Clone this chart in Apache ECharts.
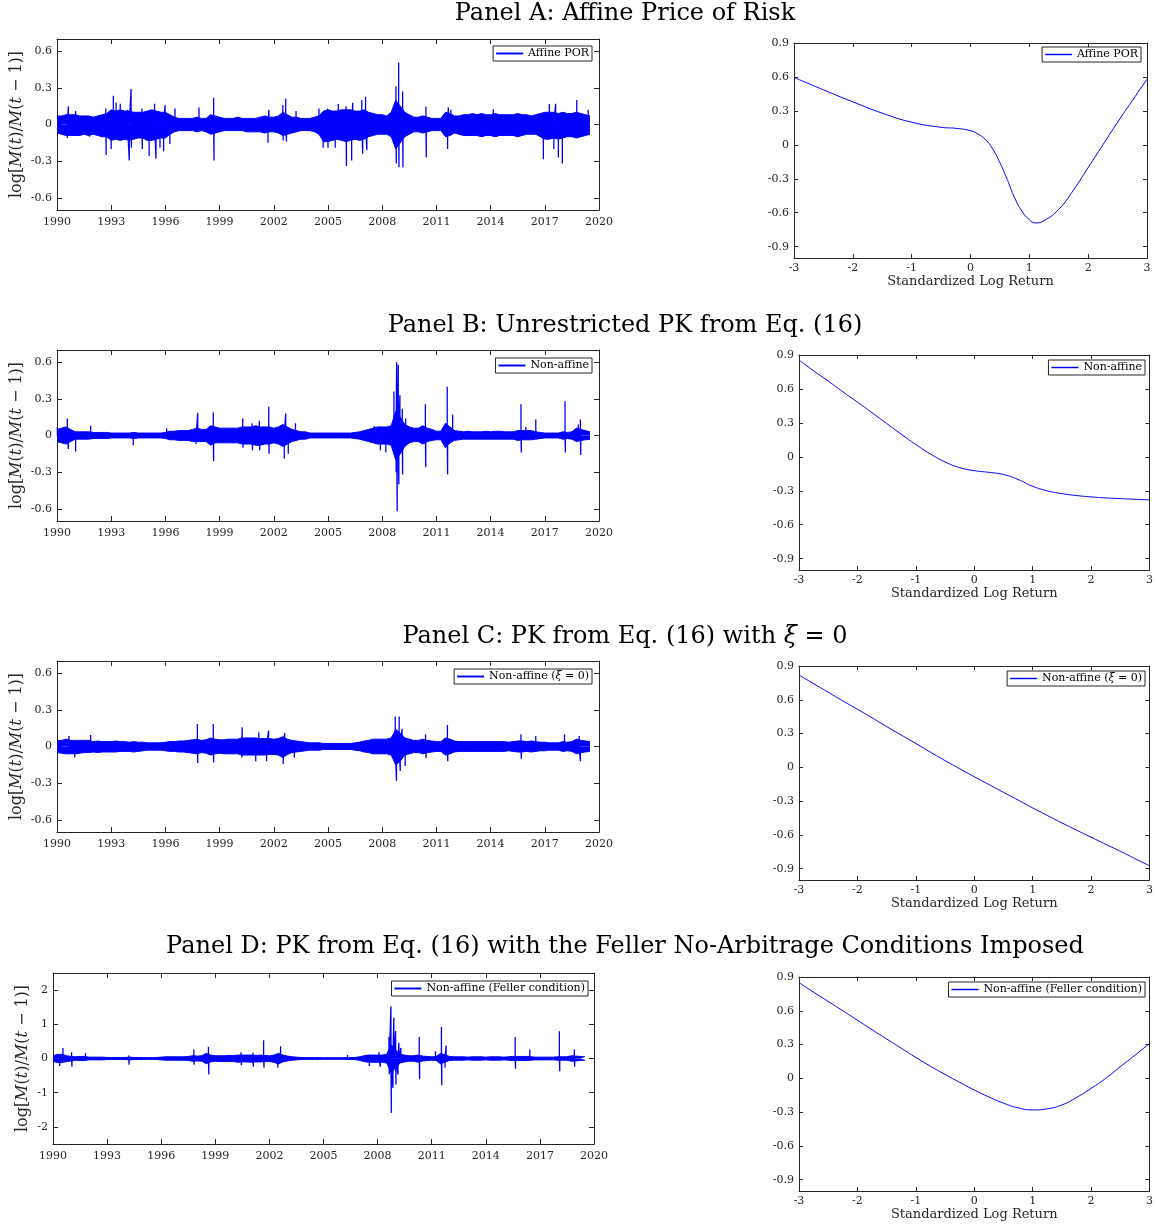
<!DOCTYPE html>
<html lang="en">
<head>
<meta charset="UTF-8">
<title>Pricing kernel panels</title>
<style>html,body{margin:0;padding:0;background:#fff;} #main{width:1156px;height:1226px;}</style>
</head>
<body>
<div id="main"></div>
<script src="https://cdn.jsdelivr.net/npm/echarts@6.0.0/dist/echarts.min.js"></script>
<script type="text/javascript">
// tick labels
var yearTicks = [1990, 1993, 1996, 1999, 2002, 2005, 2008, 2011, 2014, 2017, 2020];
var leftTicks = [-0.6, -0.3, 0, 0.3, 0.6];
var fellerTicks = [-2, -1, 0, 1, 2];
var rightTicks = [-0.9, -0.6, -0.3, 0, 0.3, 0.6, 0.9];
var retTicks = [-3, -2, -1, 0, 1, 2, 3];

// dense body of the daily log SDF changes: upper / lower edge read at each quarter, 1990.00 .. 2019.50
var affineBandHi = [
  0.07, 0.07, 0.08, 0.08,  0.08, 0.07, 0.07, 0.07,  0.06, 0.07, 0.08, 0.09,  0.12, 0.11, 0.12, 0.11,
  0.11, 0.10, 0.10, 0.10,  0.11, 0.12, 0.11, 0.10,  0.10, 0.08, 0.06, 0.05,  0.05, 0.05, 0.05, 0.06,
  0.05, 0.05, 0.08, 0.07,  0.06, 0.05, 0.05, 0.05,  0.06, 0.05, 0.05, 0.05,  0.05, 0.06, 0.07, 0.06,
  0.06, 0.07, 0.10, 0.08,  0.06, 0.06, 0.05, 0.05,  0.05, 0.06, 0.07, 0.11,  0.12, 0.11, 0.11, 0.12,
  0.12, 0.12, 0.11, 0.11,  0.12, 0.10, 0.09, 0.08,  0.08, 0.07, 0.10, 0.20,  0.15, 0.10, 0.08, 0.06,
  0.06, 0.07, 0.06, 0.05,  0.05, 0.05, 0.10, 0.09,  0.07, 0.07, 0.08, 0.08,  0.09, 0.08, 0.09, 0.08,
  0.08, 0.09, 0.08, 0.08,  0.08, 0.08, 0.09, 0.08,  0.08, 0.07, 0.08, 0.09,  0.10, 0.10, 0.10, 0.09,
  0.10, 0.09, 0.09, 0.10,  0.09, 0.08, 0.07
];
var affineBandLo = [
  -0.07, -0.08, -0.09, -0.09,  -0.09, -0.09, -0.08, -0.09,  -0.08, -0.09, -0.10, -0.10,  -0.13, -0.12, -0.13, -0.12,
  -0.13, -0.12, -0.11, -0.11,  -0.13, -0.13, -0.12, -0.11,  -0.11, -0.08, -0.06, -0.05,  -0.05, -0.05, -0.05, -0.06,
  -0.05, -0.06, -0.08, -0.07,  -0.06, -0.05, -0.05, -0.05,  -0.05, -0.05, -0.06, -0.06,  -0.06, -0.06, -0.07, -0.06,
  -0.06, -0.07, -0.09, -0.08,  -0.07, -0.06, -0.05, -0.05,  -0.05, -0.06, -0.08, -0.14,  -0.14, -0.13, -0.12, -0.13,
  -0.14, -0.13, -0.12, -0.13,  -0.12, -0.10, -0.09, -0.08,  -0.08, -0.08, -0.10, -0.20,  -0.15, -0.10, -0.08, -0.06,
  -0.06, -0.07, -0.06, -0.05,  -0.05, -0.05, -0.10, -0.09,  -0.07, -0.08, -0.09, -0.09,  -0.09, -0.09, -0.10, -0.09,
  -0.09, -0.10, -0.09, -0.09,  -0.09, -0.09, -0.10, -0.09,  -0.08, -0.08, -0.08, -0.10,  -0.12, -0.12, -0.11, -0.12,
  -0.11, -0.10, -0.10, -0.11,  -0.10, -0.09, -0.08
];
var nonAffBandHi = [
  0.05, 0.06, 0.07, 0.05,  0.03, 0.03, 0.03, 0.03,  0.025, 0.025, 0.025, 0.025,  0.02, 0.02, 0.02, 0.02,
  0.02, 0.025, 0.02, 0.02,  0.02, 0.02, 0.02, 0.02,  0.025, 0.035, 0.035, 0.04,  0.04, 0.04, 0.05, 0.06,
  0.05, 0.05, 0.08, 0.07,  0.06, 0.06, 0.06, 0.06,  0.06, 0.07, 0.07, 0.07,  0.08, 0.07, 0.07, 0.07,
  0.06, 0.07, 0.09, 0.07,  0.05, 0.04, 0.03, 0.03,  0.02, 0.02, 0.02, 0.02,  0.02, 0.02, 0.02, 0.02,
  0.02, 0.02, 0.025, 0.03,  0.04, 0.05, 0.06, 0.07,  0.07, 0.07, 0.08, 0.20,  0.15, 0.09, 0.07, 0.06,
  0.06, 0.08, 0.06, 0.05,  0.035, 0.035, 0.10, 0.07,  0.04, 0.035, 0.03, 0.035,  0.03, 0.03, 0.03, 0.035,
  0.03, 0.035, 0.035, 0.03,  0.03, 0.03, 0.04, 0.04,  0.04, 0.04, 0.03, 0.025,  0.02, 0.02, 0.02, 0.02,
  0.03, 0.025, 0.03, 0.06,  0.05, 0.04, 0.03
];
var nonAffBandLo = [
  -0.05, -0.06, -0.07, -0.05,  -0.03, -0.03, -0.03, -0.03,  -0.025, -0.025, -0.025, -0.025,  -0.02, -0.02, -0.02, -0.02,
  -0.02, -0.025, -0.02, -0.02,  -0.02, -0.02, -0.02, -0.02,  -0.025, -0.035, -0.035, -0.04,  -0.04, -0.04, -0.05, -0.05,
  -0.05, -0.05, -0.08, -0.06,  -0.06, -0.06, -0.06, -0.06,  -0.06, -0.07, -0.07, -0.07,  -0.08, -0.08, -0.07, -0.07,
  -0.06, -0.07, -0.09, -0.07,  -0.05, -0.04, -0.03, -0.03,  -0.02, -0.02, -0.02, -0.02,  -0.02, -0.02, -0.02, -0.02,
  -0.02, -0.02, -0.025, -0.03,  -0.04, -0.05, -0.06, -0.07,  -0.07, -0.07, -0.08, -0.20,  -0.15, -0.09, -0.06, -0.05,
  -0.05, -0.07, -0.05, -0.04,  -0.035, -0.035, -0.10, -0.06,  -0.04, -0.035, -0.03, -0.03,  -0.03, -0.03, -0.03, -0.03,
  -0.03, -0.03, -0.03, -0.03,  -0.03, -0.03, -0.04, -0.035,  -0.035, -0.035, -0.03, -0.025,  -0.02, -0.02, -0.02, -0.02,
  -0.03, -0.025, -0.03, -0.05,  -0.04, -0.035, -0.03
];
var xi0BandHi = [
  0.05, 0.05, 0.06, 0.05,  0.05, 0.05, 0.05, 0.05,  0.04, 0.045, 0.04, 0.04,  0.04, 0.045, 0.04, 0.04,
  0.035, 0.04, 0.035, 0.035,  0.03, 0.03, 0.03, 0.03,  0.035, 0.04, 0.04, 0.045,  0.045, 0.05, 0.055, 0.06,
  0.05, 0.055, 0.07, 0.06,  0.055, 0.055, 0.06, 0.06,  0.06, 0.07, 0.07, 0.07,  0.07, 0.065, 0.065, 0.065,
  0.06, 0.065, 0.08, 0.06,  0.05, 0.045, 0.04, 0.035,  0.03, 0.03, 0.03, 0.025,  0.025, 0.025, 0.025, 0.025,
  0.025, 0.025, 0.03, 0.035,  0.045, 0.05, 0.06, 0.06,  0.06, 0.06, 0.07, 0.14,  0.11, 0.07, 0.06, 0.05,
  0.05, 0.06, 0.05, 0.045,  0.04, 0.04, 0.07, 0.06,  0.045, 0.04, 0.04, 0.04,  0.04, 0.04, 0.04, 0.04,
  0.04, 0.04, 0.04, 0.04,  0.035, 0.04, 0.045, 0.045,  0.04, 0.045, 0.04, 0.035,  0.035, 0.03, 0.03, 0.03,
  0.04, 0.035, 0.04, 0.06,  0.05, 0.045, 0.04
];
var xi0BandLo = [
  -0.05, -0.055, -0.06, -0.06,  -0.06, -0.055, -0.05, -0.05,  -0.045, -0.05, -0.045, -0.045,  -0.045, -0.045, -0.04, -0.04,
  -0.04, -0.045, -0.04, -0.035,  -0.03, -0.03, -0.03, -0.03,  -0.035, -0.04, -0.04, -0.045,  -0.045, -0.05, -0.055, -0.06,
  -0.05, -0.055, -0.07, -0.06,  -0.055, -0.06, -0.06, -0.06,  -0.06, -0.07, -0.07, -0.07,  -0.07, -0.07, -0.07, -0.065,
  -0.065, -0.07, -0.09, -0.065,  -0.05, -0.045, -0.04, -0.035,  -0.03, -0.03, -0.03, -0.025,  -0.025, -0.025, -0.025, -0.025,
  -0.025, -0.025, -0.03, -0.035,  -0.045, -0.05, -0.06, -0.06,  -0.06, -0.06, -0.07, -0.15,  -0.12, -0.07, -0.06, -0.05,
  -0.05, -0.06, -0.05, -0.045,  -0.04, -0.04, -0.07, -0.06,  -0.045, -0.04, -0.04, -0.04,  -0.04, -0.04, -0.04, -0.04,
  -0.04, -0.04, -0.04, -0.04,  -0.035, -0.04, -0.045, -0.045,  -0.04, -0.045, -0.04, -0.035,  -0.035, -0.03, -0.03, -0.03,
  -0.04, -0.035, -0.04, -0.06,  -0.05, -0.045, -0.04
];
var fellerBandHi = [
  0.08, 0.12, 0.12, 0.08,  0.06, 0.05, 0.06, 0.06,  0.04, 0.04, 0.04, 0.04,  0.03, 0.03, 0.03, 0.03,
  0.03, 0.04, 0.03, 0.03,  0.025, 0.025, 0.025, 0.03,  0.04, 0.05, 0.05, 0.05,  0.05, 0.05, 0.06, 0.08,
  0.07, 0.08, 0.15, 0.10,  0.08, 0.08, 0.08, 0.09,  0.09, 0.10, 0.10, 0.10,  0.10, 0.09, 0.10, 0.09,
  0.08, 0.10, 0.15, 0.10,  0.07, 0.05, 0.04, 0.03,  0.025, 0.025, 0.025, 0.025,  0.02, 0.02, 0.02, 0.02,
  0.02, 0.025, 0.03, 0.03,  0.05, 0.08, 0.10, 0.10,  0.10, 0.10, 0.12, 0.40,  0.25, 0.12, 0.10, 0.08,
  0.08, 0.10, 0.07, 0.06,  0.05, 0.06, 0.15, 0.10,  0.06, 0.05, 0.05, 0.05,  0.04, 0.05, 0.05, 0.05,
  0.04, 0.05, 0.05, 0.05,  0.04, 0.05, 0.06, 0.06,  0.06, 0.06, 0.05, 0.04,  0.04, 0.04, 0.04, 0.04,
  0.05, 0.05, 0.05, 0.08,  0.07, 0.06, 0.05
];
var fellerBandLo = [
  -0.08, -0.12, -0.12, -0.09,  -0.07, -0.05, -0.06, -0.06,  -0.04, -0.04, -0.04, -0.04,  -0.03, -0.03, -0.03, -0.03,
  -0.03, -0.04, -0.03, -0.03,  -0.025, -0.025, -0.025, -0.03,  -0.04, -0.05, -0.05, -0.05,  -0.05, -0.05, -0.06, -0.08,
  -0.07, -0.08, -0.15, -0.10,  -0.08, -0.09, -0.09, -0.09,  -0.09, -0.11, -0.10, -0.10,  -0.11, -0.10, -0.10, -0.09,
  -0.09, -0.11, -0.16, -0.10,  -0.07, -0.05, -0.04, -0.03,  -0.025, -0.025, -0.025, -0.025,  -0.02, -0.02, -0.02, -0.02,
  -0.02, -0.025, -0.03, -0.03,  -0.06, -0.09, -0.11, -0.11,  -0.11, -0.11, -0.13, -0.40,  -0.28, -0.13, -0.10, -0.08,
  -0.08, -0.11, -0.07, -0.06,  -0.05, -0.06, -0.16, -0.10,  -0.06, -0.05, -0.05, -0.05,  -0.04, -0.05, -0.05, -0.05,
  -0.04, -0.05, -0.05, -0.05,  -0.04, -0.05, -0.06, -0.06,  -0.06, -0.06, -0.05, -0.04,  -0.04, -0.04, -0.04, -0.04,
  -0.05, -0.05, -0.05, -0.08,  -0.07, -0.06, -0.05
];

// isolated daily spikes sticking out of the body: date (decimal year) and value
var affineSpikeT = [1990.57, 1990.63, 1991.03, 1991.8, 1992.7, 1992.72, 1993.0, 1993.12, 1993.27, 1993.5, 1993.9, 1994.0, 1994.1, 1994.12, 1994.7, 1994.72,
  1995.1, 1995.4, 1995.48, 1995.7, 1995.9, 1995.98, 1996.25, 1996.53, 1997.86, 1998.67, 1998.69, 2001.68, 2001.73, 2002.5, 2002.52, 2002.66,
  2002.7, 2003.23, 2004.5, 2004.73, 2004.98, 2005.0, 2005.4, 2005.57, 2006.0, 2006.02, 2006.31, 2006.37, 2006.87, 2006.92, 2007.08, 2007.15,
  2008.76, 2008.78, 2008.91, 2008.93, 2009.13, 2009.15, 2010.42, 2010.44, 2011.62, 2011.66, 2011.8, 2014.15, 2016.92, 2017.25, 2017.5, 2017.6,
  2017.75, 2017.97, 2018.77, 2019.4];
var affineSpikeV = [-0.11, 0.15, 0.11, -0.10, 0.13, -0.25, -0.20, 0.235, 0.18, 0.17, 0.12, -0.295, 0.29, -0.19, 0.13, -0.20,
  -0.257, 0.17, -0.28, -0.19, -0.22, 0.16, -0.16, 0.13, 0.14, 0.22, -0.295, -0.15, 0.12, 0.16, -0.13, 0.21,
  -0.14, 0.11, 0.13, -0.19, 0.13, -0.19, -0.19, 0.167, 0.15, -0.34, -0.295, 0.178, 0.20, -0.24, 0.227, -0.21,
  0.314, -0.32, 0.507, -0.35, 0.27, -0.35, 0.145, -0.27, -0.20, 0.14, 0.12, 0.125, -0.285, 0.167, -0.20, 0.17,
  -0.27, -0.32, 0.20, 0.12];
var nonAffSpikeT = [1990.02, 1990.57, 1990.63, 1991.03, 1991.86, 1994.22, 1996.07, 1997.7, 1997.79, 1998.65, 1998.67, 2000.28, 2000.3, 2000.8, 2000.82, 2001.2,
  2001.22, 2001.72, 2001.74, 2002.58, 2002.66, 2002.8, 2003.2, 2007.56, 2007.9, 2008.0, 2008.2, 2008.65, 2008.77, 2008.8, 2008.83, 2008.89,
  2008.92, 2008.98, 2009.11, 2009.13, 2009.3, 2010.39, 2010.41, 2011.6, 2011.62, 2011.9, 2015.68, 2015.7, 2015.95, 2016.5, 2018.12, 2018.14,
  2018.85, 2018.97, 2018.99];
var nonAffSpikeV = [0.07, 0.14, -0.11, -0.13, 0.08, -0.08, 0.06, -0.07, 0.186, 0.19, -0.21, 0.14, -0.10, 0.10, -0.12, 0.12,
  -0.12, 0.235, -0.15, -0.19, 0.18, -0.15, 0.10, 0.078, -0.12, 0.07, -0.14, 0.36, -0.30, 0.60, -0.62, 0.58,
  -0.40, 0.33, 0.22, -0.32, 0.14, 0.255, -0.26, 0.40, -0.32, 0.17, 0.255, -0.14, 0.07, 0.13, 0.28, -0.14,
  0.09, 0.13, -0.16];
var xi0SpikeT = [1990.66, 1990.98, 1991.86, 1997.77, 1997.79, 1998.65, 1998.67, 2000.23, 2000.25, 2001.0, 2001.17, 2001.6, 2001.71, 2002.52, 2002.6, 2003.14,
  2008.72, 2008.79, 2008.94, 2009.0, 2009.1, 2009.27, 2010.4, 2010.43, 2011.61, 2011.63, 2015.68, 2015.7, 2016.5, 2018.09, 2018.9, 2018.97];
var xi0SpikeV = [0.085, -0.09, 0.095, 0.185, -0.135, 0.185, -0.13, -0.09, 0.158, -0.12, 0.117, -0.12, 0.13, -0.143, 0.11, -0.09,
  0.245, -0.28, 0.245, -0.20, 0.145, -0.16, 0.10, -0.095, 0.177, -0.12, 0.10, -0.10, 0.085, 0.10, 0.085, -0.12];
var fellerSpikeT = [1990.37, 1990.55, 1991.03, 1991.05, 1991.8, 1994.2, 1994.22, 1997.81, 1997.83, 1998.62, 1998.64, 2000.43, 2000.45, 2001.09, 2001.11, 2001.68,
  2001.7, 2002.46, 2002.62, 2006.33, 2007.54, 2008.08, 2008.15, 2008.63, 2008.65, 2008.74, 2008.76, 2008.85, 2008.9, 2009.0, 2009.02, 2009.13,
  2009.18, 2009.29, 2010.31, 2010.33, 2011.21, 2011.54, 2011.56, 2011.74, 2011.8, 2015.63, 2015.65, 2016.44, 2018.08, 2018.1, 2018.91, 2018.93];
var fellerSpikeV = [-0.22, 0.31, 0.18, -0.24, 0.15, 0.09, -0.18, 0.26, -0.18, 0.34, -0.47, 0.18, -0.20, 0.17, -0.24, 0.53,
  -0.27, -0.27, 0.36, 0.10, -0.22, 0.18, -0.24, 0.63, -0.47, 1.53, -1.59, -0.86, 1.19, 0.80, -0.76, -0.47,
  0.46, 0.31, 0.63, -0.61, 0.21, 0.92, -0.78, -0.27, 0.38, 0.63, -0.30, 0.26, 0.80, -0.37, 0.26, -0.24];

// pricing kernel against the standardized log return
var affineX = [-3, -2.5, -2, -1.5, -1, -0.5, -0.25, 0, 0.125, 0.25, 0.375, 0.5, 0.625, 0.75, 0.875, 1, 1.1, 1.25, 1.5, 1.75, 2, 2.25, 2.5, 2.75, 3];
var affineCurve = [0.596, 0.486, 0.38, 0.28, 0.2, 0.155, 0.146, 0.125, 0.096, 0.049, -0.034, -0.158, -0.306, -0.468, -0.587, -0.661, -0.69, -0.67, -0.57, -0.4, -0.2, 0.0, 0.2, 0.39, 0.58];
var retX = [-3, -2.75, -2.5, -2.25, -2, -1.75, -1.5, -1.25, -1, -0.75, -0.5, -0.25, 0, 0.25, 0.5, 0.75, 1, 1.25, 1.5, 1.75, 2, 2.25, 2.5, 2.75, 3];
var nonAffCurve = [0.855, 0.76, 0.67, 0.575, 0.484, 0.39, 0.295, 0.2, 0.109, 0.025, -0.045, -0.095, -0.122, -0.137, -0.156, -0.2, -0.26, -0.3, -0.325, -0.342, -0.354, -0.363, -0.369, -0.375, -0.38];
var xi0Curve = [0.82, 0.743, 0.667, 0.59, 0.516, 0.44, 0.362, 0.287, 0.212, 0.135, 0.06, -0.012, -0.083, -0.152, -0.222, -0.29, -0.36, -0.427, -0.493, -0.557, -0.62, -0.683, -0.745, -0.81, -0.873];
var fellerCurve = [0.85, 0.765, 0.683, 0.6, 0.516, 0.432, 0.35, 0.268, 0.186, 0.108, 0.035, -0.035, -0.103, -0.165, -0.22, -0.262, -0.28, -0.27, -0.236, -0.17, -0.089, 0.0, 0.103, 0.205, 0.31];

var FONT = 'DejaVu Serif';
var INK = '#262626';
var BLUE = '#0000ff';

var myChart = echarts.init(document.getElementById('main'));
var option = {animation: false, backgroundColor: '#ffffff', color: [BLUE], grid: [], xAxis: [], yAxis: [], legend: [], series: [], graphic: []};

function makeAxis(gi, pos, range, showLabel, tickLen, margin) {
    return {
        gridIndex: gi, type: 'value', position: pos, min: range[0], max: range[1],
        axisLine: {show: true, onZero: false, lineStyle: {color: INK, width: 1}},
        axisTick: {show: true, inside: true, length: tickLen, customValues: range[2], lineStyle: {color: INK, width: 1}},
        axisLabel: {show: showLabel, customValues: range[2], margin: margin, color: INK, fontFamily: FONT, fontSize: 11,
                    formatter: function (v) { return String(v); }},
        splitLine: {show: false}
    };
}

function addGrid(box, xr, yr, tickLen, xm, ym) {
    var gi = option.grid.length;
    option.grid.push({left: box[0], top: box[1], width: box[2], height: box[3]});
    var xi = option.xAxis.length, yi = option.yAxis.length;
    option.xAxis.push(makeAxis(gi, 'bottom', xr, true, tickLen, xm));
    option.xAxis.push(makeAxis(gi, 'top', xr, false, tickLen, xm));
    option.yAxis.push(makeAxis(gi, 'left', yr, true, tickLen, ym));
    option.yAxis.push(makeAxis(gi, 'right', yr, false, tickLen, ym));
    return {x: xi, y: yi};
}

// legend sample drawn as a thin filled bar of the given thickness
function addLegend(name, pos, lineH) {
    option.legend.push({
        data: [{name: name, icon: 'path://M0,0H28V' + lineH + 'H0Z', itemStyle: {color: BLUE, borderColor: BLUE, borderWidth: 0}}],
        right: pos[0], top: pos[1], selectedMode: false, inactiveColor: BLUE, inactiveBorderColor: BLUE,
        padding: [2, 3, 2, 3], itemGap: 0, itemWidth: 27, itemHeight: lineH,
        itemStyle: {color: BLUE, borderColor: BLUE, borderWidth: 0}, lineStyle: {color: BLUE},
        backgroundColor: '#ffffff', borderColor: INK, borderWidth: 1,
        textStyle: {fontFamily: FONT, fontSize: 11, color: '#000', rich: {i: {fontStyle: 'italic', fontFamily: FONT, fontSize: 11}}},
        formatter: function (n) { return n.replace('ξ', '{i|ξ}'); }
    });
}

function quarterly(vals) {
    return vals.map(function (v, k) { return [1990 + k / 4, v]; });
}
// each spike drawn as a stroke out of the zero line and back
function spikes(ts, vs) {
    var pts = [];
    ts.forEach(function (t, i) {
        pts.push([t, 0], [t, vs[i]], [t, 0]);
    });
    return pts;
}
function pairs(xs, ys) {
    return xs.map(function (x, i) { return [x, ys[i]]; });
}

var panels = [
    {title: 'Panel A: Affine Price of Risk', ty: 14, name: 'Affine POR', hi: affineBandHi, lo: affineBandLo, st: affineSpikeT, sv: affineSpikeV, cx: affineX, cy: affineCurve,
     lbox: [57, 39, 542, 171], rbox: [794, 43, 353, 215], yr: [-0.7, 0.7, leftTicks], yGap: 32, lleg: [564, 46], rleg: [15, 47]},
    {title: 'Panel B: Unrestricted PK from Eq. (16)', ty: 326, name: 'Non-affine', hi: nonAffBandHi, lo: nonAffBandLo, st: nonAffSpikeT, sv: nonAffSpikeV, cx: retX, cy: nonAffCurve,
     lbox: [57, 350, 542, 171], rbox: [799, 355, 352, 215], yr: [-0.7, 0.7, leftTicks], yGap: 32, lleg: [564, 358], rleg: [11, 360]},
    {title: 'Panel C: PK from Eq. (16) with {i|ξ} = 0', ty: 637, name: 'Non-affine (ξ = 0)', hi: xi0BandHi, lo: xi0BandLo, st: xi0SpikeT, sv: xi0SpikeV, cx: retX, cy: xi0Curve,
     lbox: [57, 661, 542, 171], rbox: [799, 666, 352, 214], yr: [-0.7, 0.7, leftTicks], yGap: 32, lleg: [564, 669], rleg: [11, 671]},
    {title: 'Panel D: PK from Eq. (16) with the Feller No-Arbitrage Conditions Imposed', ty: 947, name: 'Non-affine (Feller condition)', hi: fellerBandHi, lo: fellerBandLo, st: fellerSpikeT, sv: fellerSpikeV, cx: retX, cy: fellerCurve,
     lbox: [53, 973, 541, 171], rbox: [799, 977, 352, 214], yr: [-2.5, 2.5, fellerTicks], yGap: 22, lleg: [568, 981], rleg: [11, 982]}
];

panels.forEach(function (p) {
    option.graphic.push({
        type: 'text', x: 625, y: p.ty,
        style: {text: p.title, fill: '#000', font: '24px "DejaVu Serif"', textAlign: 'center', textVerticalAlign: 'middle',
                rich: {i: {fontStyle: 'italic', fontFamily: FONT, fontSize: 24, fill: '#000'}}}
    });

    var L = addGrid(p.lbox, [1990, 2020, yearTicks], p.yr, 5, 7, 5);
    var ly = option.yAxis[L.y];
    ly.name = 'log[{i|M}({i|t})/{i|M}({i|t} − 1)]';
    ly.nameLocation = 'middle';
    ly.nameRotate = 90;
    ly.nameGap = p.yGap;
    ly.nameTextStyle = {fontFamily: FONT, fontSize: 16, color: INK, rich: {i: {fontStyle: 'italic', fontFamily: FONT, fontSize: 16, color: INK}}};

    var R = addGrid(p.rbox, [-3, 3, retTicks], [-1, 0.9, rightTicks], 4, 5, 5);
    var rx = option.xAxis[R.x];
    rx.name = 'Standardized Log Return';
    rx.nameLocation = 'middle';
    rx.nameGap = 17;
    rx.nameTextStyle = {fontFamily: FONT, fontSize: 13, color: INK};

    // solid body of the series, upper and lower edge each filled to zero
    option.series.push({
        type: 'line', xAxisIndex: L.x, yAxisIndex: L.y, data: quarterly(p.hi),
        symbol: 'none', silent: true, lineStyle: {color: BLUE, width: 1}, itemStyle: {color: BLUE}, areaStyle: {color: BLUE, opacity: 1, origin: 0}
    });
    option.series.push({
        type: 'line', xAxisIndex: L.x, yAxisIndex: L.y, data: quarterly(p.lo),
        symbol: 'none', silent: true, lineStyle: {color: BLUE, width: 1}, itemStyle: {color: BLUE}, areaStyle: {color: BLUE, opacity: 1, origin: 0}
    });
    option.series.push({
        name: p.name, type: 'line', xAxisIndex: L.x, yAxisIndex: L.y, data: spikes(p.st, p.sv),
        symbol: 'none', showSymbol: false, silent: true,
        lineStyle: {color: BLUE, width: 1.3}, itemStyle: {color: BLUE}
    });
    option.series.push({
        name: p.name, type: 'line', xAxisIndex: R.x, yAxisIndex: R.y, data: pairs(p.cx, p.cy),
        symbol: 'none', showSymbol: false, silent: true, smooth: true,
        lineStyle: {color: BLUE, width: 1}, itemStyle: {color: BLUE}
    });

    addLegend(p.name, p.lleg, 2);
    addLegend(p.name, p.rleg, 1.5);
});

myChart.setOption(option);
</script>
</body>
</html>
